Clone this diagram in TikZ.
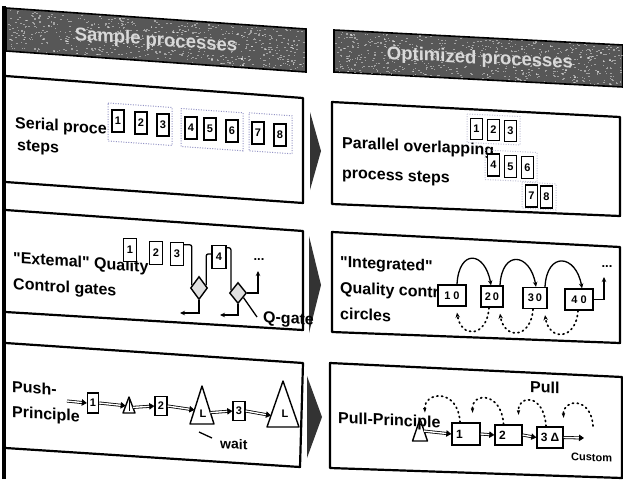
\documentclass[tikz,border=0pt]{standalone}
\usepackage{fontspec}
\setsansfont{Liberation Sans}[Ligatures=TeXOff]
\usetikzlibrary{arrows.meta,shapes.geometric,calc}
% double-shafted arrow: shaft plus a separate solid head
\newcommand\dblarr[2]{\draw[dshaft] #1 -- #2; \draw[dtip] #1 -- #2;}
\begin{document}
\begin{tikzpicture}[x=1pt,y=-1pt,
  lab/.style={font=\sffamily\bfseries\fontsize{16}{18}\selectfont, anchor=base west, inner sep=0pt},
  labL/.style={lab, yslant=-0.07},
  labR/.style={lab, yslant=-0.05},
  numlab/.style={font=\sffamily\bfseries\fontsize{11}{12}\selectfont, inner sep=0pt},
  nbox/.style={draw, line width=1.4pt, fill=white, inner sep=0pt, minimum width=12pt, minimum height=22pt, font=\sffamily\bfseries\fontsize{11}{12}\selectfont},
  panel/.style={draw, line width=2.2pt, line join=round},
  banner/.style={fill=black!66, draw=black, line width=1.6pt},
  bantext/.style={font=\sffamily\bfseries\fontsize{18.5}{20}\selectfont, inner sep=0pt, text=white!85!black},
  grp/.style={draw=blue!30!gray!65, line width=1pt, dash pattern=on 1pt off 1.5pt},
  flow/.style={line width=1.3pt},
  arr/.style={-{Stealth[length=5pt,width=4.5pt]}},
  dotline/.style={line width=1.7pt, dash pattern=on 1.2pt off 3.6pt, line cap=round},
  dshaft/.style={double, double distance=1.4pt, line width=0.8pt, shorten >=3.5pt},
  dtip/.style={line width=0.8pt, dash pattern=on 0pt off 400pt, -{Triangle[length=5pt,width=6.5pt]}},
  tri/.style={draw, line width=1.4pt, line join=round, fill=white},
  spot/.style={inner sep=0pt, outer sep=0pt},
  chev/.style={fill=black!80}
]
\useasboundingbox (0,0) rectangle (623,479);
\fill[white] (0,0) rectangle (623,479);

% ---------- header banners ----------
\path[banner] (6,8) -- (306,29) -- (306,72) -- (6,51) -- cycle;
\path[banner] (334,30) -- (623,45) -- (623,87) -- (334,72) -- cycle;
\pgfmathsetseed{12}
\foreach \i in {1,...,650}{
  \pgfmathsetmacro\ux{7+297*rnd}
  \pgfmathsetmacro\uy{9+0.07*(\ux-6)+40*rnd}
  \fill[white, opacity=0.45] (\ux,\uy) rectangle ++(1.6,1.1);
  \pgfmathsetmacro\vx{335+286*rnd}
  \pgfmathsetmacro\vy{31+0.05*(\vx-334)+40*rnd}
  \fill[white, opacity=0.45] (\vx,\vy) rectangle ++(1.6,1.1);
}
\node[bantext, yslant=-0.07] (hsample) at (156,41) {Sample processes};
\node[bantext, yslant=-0.05] (hopt) at (480,59) {Optimized processes};

% ---------- panels ----------
\path[panel] (5.5,76) -- (303,98) -- (303,203) -- (5.5,182);
\path[panel] (5.5,210) -- (303,231) -- (303,330) -- (5.5,312);
\path[panel] (5.5,343) -- (303,363) -- (300,467) -- (5.5,448);
\path[panel] (332,102) -- (620,117) -- (620,216) -- (332,204) -- cycle;
\path[panel] (332,232) -- (620,247) -- (620,343) -- (332,332) -- cycle;
\path[panel] (330,363) -- (622,377) -- (622,478) -- (330,468) -- cycle;
\draw[line width=3.5pt] (4,6) -- (4,479);

% arrows between the columns
\fill[chev] (310,112) -- (321,151) -- (310,190) -- cycle;
\fill[chev] (309,236) -- (321,285) -- (309,333) -- cycle;
\fill[chev] (307,376) -- (322,417) -- (307,458) -- cycle;

% ---------- row 1: serial steps ----------
\node[labL] (ser) at (15,128) {Serial proce};
\node[labL] (serb) at (17,150) {steps};
\path[grp] (108,103) -- (172,107.5) -- (172,145.5) -- (108,141) -- cycle;
\path[grp] (181,108.5) -- (243,112.8) -- (243,150.8) -- (181,146.5) -- cycle;
\path[grp] (249,112.8) -- (292,115.8) -- (292,153.8) -- (249,150.8) -- cycle;
\node[nbox] (s1) at (118,121) {1};
\node[nbox] (s2) at (141,123) {2};
\node[nbox] (s3) at (163,125) {3};
\node[nbox] (s4) at (191,128) {4};
\node[nbox] (s5) at (210,129) {5};
\node[nbox] (s6) at (232,131) {6};
\node[nbox] (s7) at (258,133) {7};
\node[nbox] (s8) at (280,135) {8};

% ---------- row 1: parallel steps ----------
\node[labR] (par) at (342,148) {Parallel overlapping};
\node[labR] (parb) at (342,178) {process steps};
\path[grp, draw=blue!20!gray!40] (467,114) -- (520,116.5) -- (520,145) -- (467,142.5) -- cycle;
\path[grp, draw=blue!20!gray!40] (485,150) -- (537,152.5) -- (537,182) -- (485,179.5) -- cycle;
\path[grp, draw=blue!20!gray!40] (522,182) -- (556,184) -- (556,210) -- (522,208) -- cycle;
\node[nbox, minimum height=21pt] (o1) at (476.5,129) {1};
\node[nbox, minimum height=21pt] (o2) at (493.5,130) {2};
\node[nbox, minimum height=21pt] (o3) at (510.5,131) {3};
\node[nbox] (o4) at (493.5,165) {4};
\node[nbox] (o5) at (510.5,166.5) {5};
\node[nbox] (o6) at (527.5,167.5) {6};
\node[nbox] (o7) at (531.5,196) {7};
\node[nbox] (o8) at (546.5,197) {8};

% ---------- row 2: external quality gates ----------
\node[labL] (ext) at (13,263) {"Extemal" Quality};
\node[labL] (extb) at (13,289) {Control gates};
\node[nbox, minimum width=13pt, minimum height=23pt] (g1) at (130,250) {1};
\node[nbox, minimum width=13pt, minimum height=23pt] (g2) at (156,253) {2};
\node[nbox, minimum width=13pt, minimum height=23pt] (g3) at (177,254) {3};
\node[nbox, minimum width=14pt, minimum height=23pt] (g4) at (219,257) {4};
\node[diamond, draw, line width=1.4pt, fill=gray!25, minimum width=17pt, minimum height=23pt, inner sep=0pt] (d1) at (199,288) {};
\node[diamond, draw, line width=1.4pt, fill=gray!25, minimum width=17pt, minimum height=21pt, inner sep=0pt] (d2) at (238,293) {};
\coordinate (r1) at (180,313);
\coordinate (r2) at (220,315);
\coordinate (up2) at (258,271);
\draw[flow, rounded corners=2pt] ([yshift=-3pt]g3.north east) -| (d1.160);
\draw[flow, rounded corners=2pt] (d1.20) |- ([yshift=3pt]g4.west);
\draw[flow, arr] (d1.south) |- (r1);
\draw[flow, rounded corners=2pt] ([yshift=-3pt]g4.north east) -| (d2.160);
\draw[flow, arr] (d2.south) |- (r2);
\draw[flow, arr] (d2.east) -| (up2);
\node[numlab, font=\sffamily\bfseries\fontsize{13}{13}\selectfont] (more2) at (259,260) {...};
\node[labL] (qgate) at (263,322) {Q-gate};
\draw[flow] (d2.-40) -- ([xshift=-6pt,yshift=5pt]qgate.base west);

% ---------- row 2: integrated quality circles ----------
\node[labR] (integ) at (340,267) {"Integrated"};
\node[labR] (integb) at (340,293) {Quality contr};
\node[labR] (integc) at (340,319) {circles};
\node[nbox, minimum width=28pt, minimum height=21pt] (c1) at (452,295.5) {1\hspace{3pt}0};
\node[nbox, minimum width=22pt, minimum height=21pt] (c2) at (492,296.5) {2\hspace{2pt}0};
\node[nbox, minimum width=24pt, minimum height=21pt] (c3) at (535,298) {3\hspace{2pt}0};
\node[nbox, minimum width=28pt, minimum height=21pt] (c4) at (579,299.5) {4\hspace{3pt}0};
\draw[flow, arr] ([xshift=5pt]c1.north) .. controls +(2,-36) and +(-6,-34) .. ([xshift=-1pt]c2.north);
\draw[flow, arr] ([xshift=8pt]c2.north) .. controls +(2,-36) and +(-6,-34) .. ([xshift=1pt]c3.north);
\draw[flow, arr] ([xshift=10pt]c3.north) .. controls +(2,-36) and +(-6,-34) .. ([xshift=3pt]c4.north);
\coordinate (up4) at (604,277);
\draw[flow, arr] (c4.east) -| (up4);
\node[numlab, font=\sffamily\bfseries\fontsize{13}{13}\selectfont] (more4) at (607,267) {...};
\draw[dotline, arr] ([xshift=-3pt]c2.south) .. controls +(-2,30) and +(4,26) .. ([xshift=5pt,yshift=-6pt]c1.south);
\draw[dotline, arr] ([xshift=-2pt]c3.south) .. controls +(-2,30) and +(4,26) .. ([xshift=8pt,yshift=-6pt]c2.south);
\draw[dotline, arr] ([xshift=-1pt]c4.south) .. controls +(-2,30) and +(4,26) .. ([xshift=10pt,yshift=-6pt]c3.south);

% ---------- row 3: push principle ----------
\node[labL] (push) at (12,392) {Push-};
\node[labL] (pushb) at (12,417) {Principle};
\coordinate (in0) at (67,401);
\node[nbox, minimum width=11pt, minimum height=20pt] (q1) at (93,403) {1};
\node[spot, minimum width=12pt, minimum height=16pt] (t1) at (129,405) {};
\draw[tri] (t1.south west) -- (t1.north) -- (t1.south east) -- cycle;
\draw[line width=0.8pt] ([yshift=5pt]t1.center) -- ([yshift=-6pt]t1.center);
\node[nbox, minimum width=12pt, minimum height=19pt] (q2) at (161,406) {2};
\node[spot, minimum width=24pt, minimum height=38pt] (T1) at (202,405) {};
\draw[tri] (T1.south west) -- (T1.north) -- (T1.south east) -- cycle;
\node[numlab] (T1L) at (203,414) {L};
\node[nbox, minimum width=12pt, minimum height=19pt] (q3) at (239,411) {3};
\node[spot, minimum width=32pt, minimum height=46pt] (T2) at (283,404) {};
\draw[tri] (T2.south west) -- (T2.north) -- (T2.south east) -- cycle;
\node[numlab] (T2L) at (285,414) {L};
\dblarr{(in0)}{(q1.west)}
\dblarr{(q1.east)}{($(t1.south west)!0.45!(t1.north)$)}
\dblarr{($(t1.south east)!0.35!(t1.north)$)}{(q2.west)}
\dblarr{(q2.east)}{($(T1.south west)!0.37!(T1.north)$)}
\dblarr{($(T1.south east)!0.3!(T1.north)$)}{(q3.west)}
\dblarr{(q3.east)}{($(T2.south west)!0.25!(T2.north)$)}
\node[labL, font=\sffamily\bfseries\fontsize{14}{16}\selectfont] (wait) at (220,448) {wait};
\draw[flow] ([xshift=-3pt,yshift=-8pt]T1.south) -- ++(13,6);

% ---------- row 3: pull principle ----------
\node[labR] (pull) at (338,423) {Pull-Principle};
\node[spot, minimum width=15pt, minimum height=22pt] (fl) at (420,430) {};
\draw[tri, fill=none] (fl.south west) -- (fl.north) -- (fl.south east) -- cycle;
\node[nbox, minimum width=28pt, minimum height=22pt, font=\sffamily\bfseries\fontsize{12}{12}\selectfont] (p1) at (466,434) {\makebox[20pt][l]{1}};
\node[nbox, minimum width=27pt, minimum height=20pt, font=\sffamily\bfseries\fontsize{12}{12}\selectfont] (p2) at (508.5,435) {\makebox[19pt][l]{2}};
\node[nbox, minimum width=26pt, minimum height=21pt, font=\sffamily\bfseries\fontsize{12}{12}\selectfont] (p3) at (550,437.5) {3\hspace{3pt}Δ};
\coordinate (outp) at (584,438);
\dblarr{($(fl.south east)!0.45!(fl.north)$)}{(p1.west)}
\dblarr{(p1.east)}{(p2.west)}
\dblarr{(p2.east)}{(p3.west)}
\dblarr{(p3.east)}{(outp)}
\node[numlab, anchor=base west, yslant=-0.05] (cust) at (571,460) {Custom};
\node[labR] (pulllab) at (530,392) {Pull};
\coordinate (pa4) at (593,426);
\draw[dotline, -{Latex[length=6pt,width=3.5pt]}] ([xshift=-6pt]p1.north) .. controls +(-2,-35) and +(-1,-22) .. ([xshift=5pt,yshift=5pt]fl.north);
\draw[dotline, -{Latex[length=6pt,width=3.5pt]}] ([xshift=-5pt]p2.north) .. controls +(-2,-33) and +(-1,-22) .. ([xshift=-8pt,yshift=8pt]p1.north east);
\draw[dotline, -{Latex[length=6pt,width=3.5pt]}] ([xshift=-4pt]p3.north) .. controls +(-2,-33) and +(-1,-22) .. ([xshift=-4pt,yshift=8pt]p2.north east);
\draw[dotline, -{Latex[length=6pt,width=3.5pt]}] (pa4) .. controls +(-2,-30) and +(-1,-20) .. ([yshift=7pt]p3.north east);
\end{tikzpicture}
\end{document}
